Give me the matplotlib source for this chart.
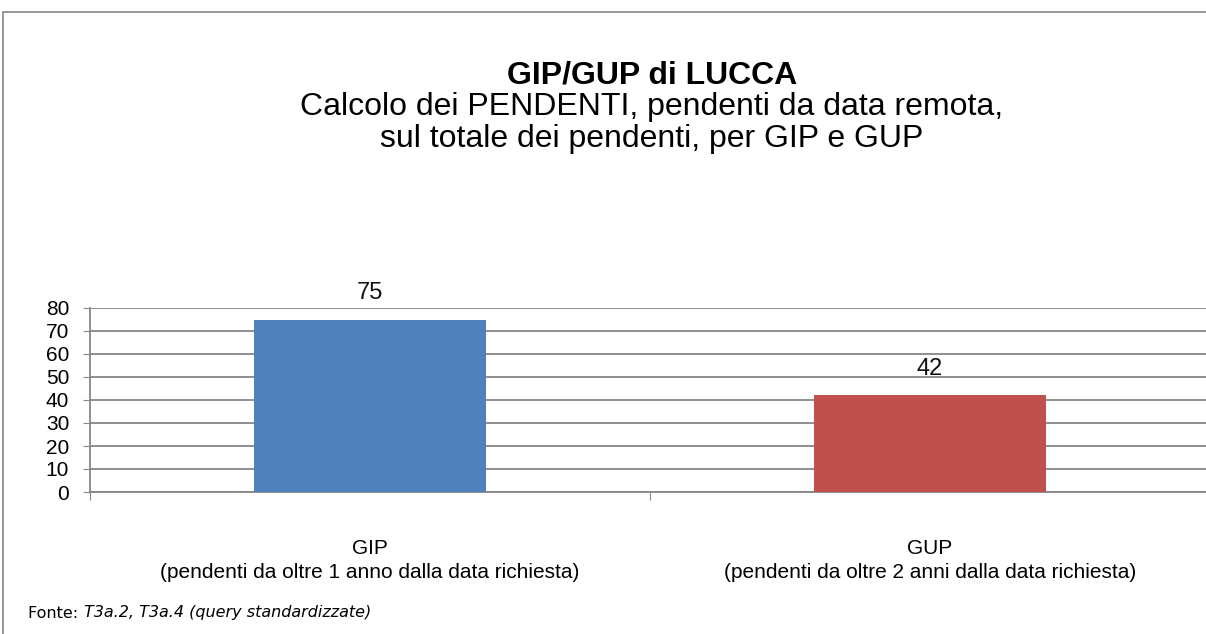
import matplotlib.pyplot as plt
from matplotlib.patches import Rectangle

categories = ['GIP\n(pendenti da oltre 1 anno dalla data richiesta)',
              'GUP\n(pendenti da oltre 2 anni dalla data richiesta)']
values = [75, 42]
colors = ['#4F81BD', '#C0504D']
yticks = [0, 10, 20, 30, 40, 50, 60, 70, 80]

plt.rcParams['font.family'] = ['Liberation Sans', 'DejaVu Sans']

fig = plt.figure(figsize=(12.06, 6.34), dpi=100)
ax = fig.add_axes([90 / 1206, 1 - 492 / 634, 1120 / 1206, 184 / 634])

x = range(len(values))
ax.bar(x, values, width=0.414, color=colors, zorder=3)
for xi, v in zip(x, values):
    ax.annotate(str(v), (xi, v), xytext=(0, 19), textcoords='offset points',
                ha='center', va='center', fontsize=17, color='#111111')

ax.set_xlim(-0.5, 1.5)
ax.set_ylim(0, 80)
ax.set_yticks(yticks)
ax.tick_params(axis='y', labelsize=15, length=5, color='#868686', pad=10)
ax.yaxis.grid(True, color='#868686', linewidth=1.3, zorder=0)
ax.set_xticks([-0.5, 0.5, 1.5])
ax.set_xticklabels([])
ax.set_xticks(list(x), minor=True)
ax.set_xticklabels(categories, minor=True, fontsize=15, linespacing=1.35)
ax.tick_params(axis='x', which='major', length=6, color='#868686')
ax.tick_params(axis='x', which='minor', length=0, pad=34)
for s in ['top', 'right']:
    ax.spines[s].set_visible(False)
for s in ['left', 'bottom']:
    ax.spines[s].set_color('#868686')
    ax.spines[s].set_linewidth(1.3)

# title, one line at a time
fig.text(652 / 1206, 1 - 75 / 634, 'GIP/GUP di LUCCA', ha='center', va='center',
         fontsize=23, fontweight='bold')
fig.text(652 / 1206, 1 - 107 / 634, 'Calcolo dei PENDENTI, pendenti da data remota,',
         ha='center', va='center', fontsize=23)
fig.text(652 / 1206, 1 - 139 / 634, 'sul totale dei pendenti, per GIP e GUP',
         ha='center', va='center', fontsize=23)

# source note
fig.text(28 / 1206, 1 - 613 / 634, 'Fonte: ', fontsize=11.5, family='DejaVu Sans', va='center')
fig.text(84 / 1206, 1 - 613 / 634, 'T3a.2, T3a.4 (query standardizzate)', fontsize=11.5,
         family='DejaVu Sans', style='italic', va='center')

# chart frame
fig.patches.append(Rectangle((3 / 1206, -0.1), 1.2, 1 - 12 / 634 + 0.1, transform=fig.transFigure,
                             fill=False, edgecolor='#868686', linewidth=1.2))

fig.savefig('out.png', dpi=100)
